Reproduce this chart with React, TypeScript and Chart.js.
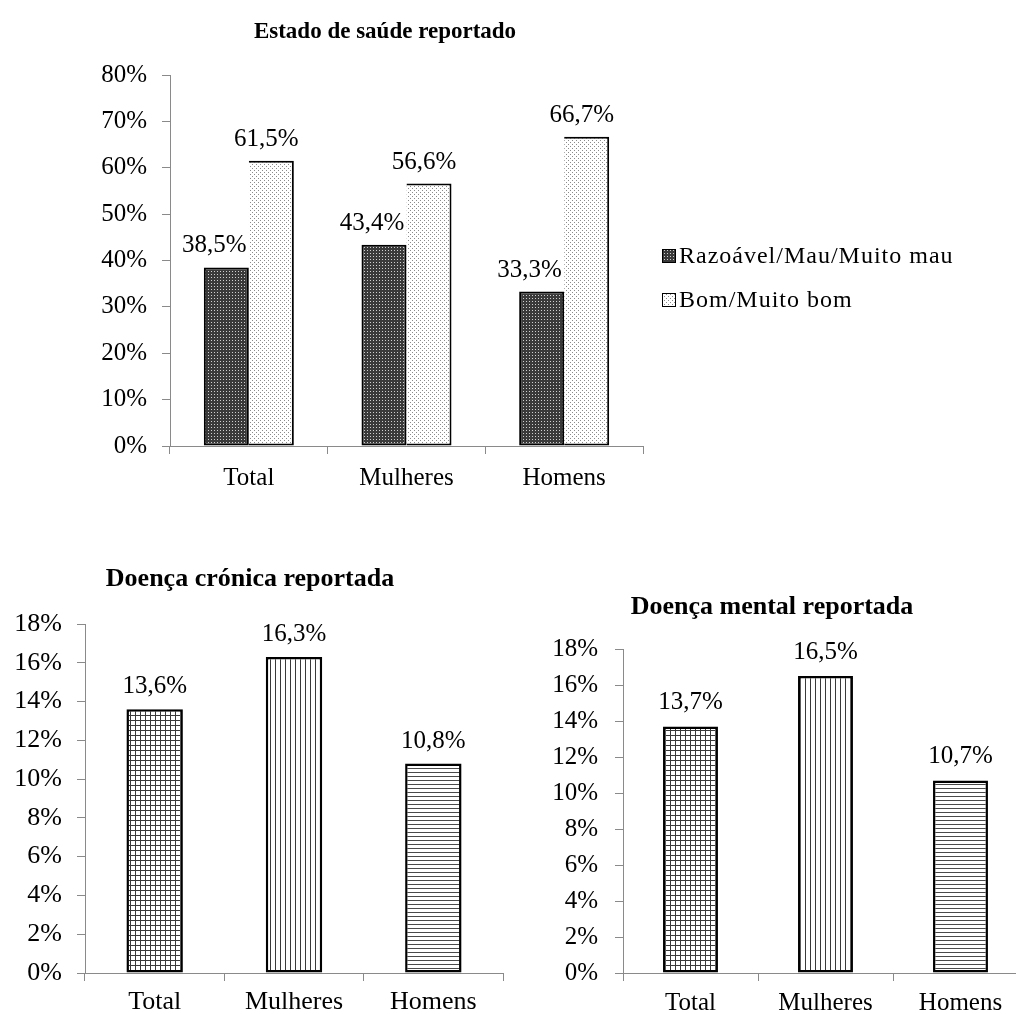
import React, { useEffect, useRef } from "react";
import { Chart, registerables } from "chart.js";

Chart.register(...registerables);

const SERIF = '"Liberation Serif", "Times New Roman", Times, serif';

// ---------- data ----------
const healthTitle = "Estado de saúde reportado";
const healthCategories = ["Total", "Mulheres", "Homens"];
const healthSeries = ["Razoável/Mau/Muito mau", "Bom/Muito bom"];
const healthFair = [38.5, 43.4, 33.3];
const healthGood = [61.5, 56.6, 66.7];
const healthMax = 80;
const healthStep = 10;

const chronicTitle = "Doença crónica reportada";
const chronicCategories = ["Total", "Mulheres", "Homens"];
const chronicValues = [13.6, 16.3, 10.8];

const mentalTitle = "Doença mental reportada";
const mentalCategories = ["Total", "Mulheres", "Homens"];
const mentalValues = [13.7, 16.5, 10.7];

const diseaseMax = 18;
const diseaseStep = 2;

// ---------- helpers ----------
const fmt = (v: number) => v.toFixed(1).replace(".", ",") + "%";

function makePattern(
  ctx: CanvasRenderingContext2D,
  w: number,
  h: number,
  draw: (c: CanvasRenderingContext2D) => void
) {
  const off = document.createElement("canvas");
  off.width = w;
  off.height = h;
  const c = off.getContext("2d")!;
  draw(c);
  return ctx.createPattern(off, "repeat")!;
}

function patterns(ctx: CanvasRenderingContext2D) {
  return {
    darkDots: makePattern(ctx, 3, 3, (c) => {
      c.fillStyle = "#3a3a3a";
      c.fillRect(0, 0, 3, 3);
      c.fillStyle = "#cfcfcf";
      c.fillRect(1, 1, 1, 1);
    }),
    lightDots: makePattern(ctx, 4, 4, (c) => {
      c.fillStyle = "#ffffff";
      c.fillRect(0, 0, 4, 4);
      c.fillStyle = "#8a8a8a";
      c.fillRect(0, 0, 1, 1);
      c.fillRect(2, 2, 1, 1);
    }),
    grid: makePattern(ctx, 5, 5, (c) => {
      c.fillStyle = "#ffffff";
      c.fillRect(0, 0, 5, 5);
      c.fillStyle = "#3a3a3a";
      c.fillRect(0, 0, 5, 1);
      c.fillRect(0, 0, 1, 5);
    }),
    vlines: makePattern(ctx, 5, 1, (c) => {
      c.fillStyle = "#ffffff";
      c.fillRect(0, 0, 5, 1);
      c.fillStyle = "#3a3a3a";
      c.fillRect(0, 0, 1, 1);
    }),
    hlines: makePattern(ctx, 1, 4, (c) => {
      c.fillStyle = "#ffffff";
      c.fillRect(0, 0, 1, 4);
      c.fillStyle = "#4a4a4a";
      c.fillRect(0, 0, 1, 1);
    }),
  };
}

type Box = { x: number; y: number; w: number; h: number };
type Area = { l: number; t: number; r: number; b: number };

type Cfg = {
  box: Box;
  area: Area;
  labels: string[];
  datasets: any[];
  max: number;
  step: number;
  tickSize: number;
  xTickPad: number;
  yTickPad: number;
  tickLen: number;
  catPct: number;
  borderWidth: number;
  title: { text: string; x: number; y: number; size: number };
  labelSize: number;
  labelGap: number;
  labelOffsets: number[];
  legend?: { x: number; y: number; dy: number; sq: number; size: number; textX: number; spacing: number };
};

const AXIS = "#8a8a8a";

function buildChart(canvas: HTMLCanvasElement, cfg: Cfg) {
  const { box, area } = cfg;
  const overlay = {
    id: "overlay",
    afterDraw(chart: any) {
      const ctx = chart.ctx as CanvasRenderingContext2D;
      ctx.save();
      ctx.fillStyle = "#000";
      ctx.font = `${cfg.labelSize}px ${SERIF}`;
      ctx.textAlign = "center";
      ctx.textBaseline = "alphabetic";
      chart.data.datasets.forEach((ds: any, di: number) => {
        chart.getDatasetMeta(di).data.forEach((el: any, i: number) => {
          const v = ds.data[i] as number;
          ctx.fillText(fmt(v), el.x + (cfg.labelOffsets[di] || 0), el.y - cfg.labelGap);
        });
      });
      // title
      ctx.font = `bold ${cfg.title.size}px ${SERIF}`;
      ctx.textBaseline = "middle";
      ctx.fillText(cfg.title.text, cfg.title.x - box.x, cfg.title.y - box.y);
      // legend
      if (cfg.legend) {
        const lg = cfg.legend;
        ctx.textAlign = "left";
        ctx.textBaseline = "middle";
        ctx.font = `${lg.size}px ${SERIF}`;
        try {
          (ctx as any).letterSpacing = `${lg.spacing}px`;
        } catch (e) {}
        chart.data.datasets.forEach((ds: any, di: number) => {
          const sx = lg.x - box.x;
          const sy = lg.y - box.y + di * lg.dy;
          ctx.fillStyle = ds.backgroundColor;
          ctx.fillRect(sx, sy, lg.sq, lg.sq);
          ctx.strokeStyle = "#000";
          ctx.lineWidth = 1;
          ctx.strokeRect(sx + 0.5, sy + 0.5, lg.sq - 1, lg.sq - 1);
          ctx.fillStyle = "#000";
          ctx.fillText(ds.label, lg.textX - box.x, sy + lg.sq / 2 + 1);
        });
      }
      ctx.restore();
    },
  };

  const yW = area.l - box.x;
  const xH = box.y + box.h - area.b;

  return new Chart(canvas, {
    type: "bar",
    data: {
      labels: cfg.labels,
      datasets: cfg.datasets.map((d) => ({
        ...d,
        borderColor: "#000",
        borderWidth: cfg.borderWidth,
        categoryPercentage: cfg.catPct,
        barPercentage: 1,
      })),
    },
    options: {
      responsive: false,
      maintainAspectRatio: false,
      animation: false,
      layout: {
        padding: {
          left: 0,
          top: area.t - box.y,
          right: box.x + box.w - area.r,
          bottom: 0,
        },
      },
      plugins: {
        legend: { display: false },
        title: { display: false },
        tooltip: { enabled: false },
      },
      scales: {
        x: {
          grid: {
            display: true,
            drawOnChartArea: false,
            drawTicks: true,
            tickLength: cfg.tickLen,
            color: AXIS,
            offset: true,
          },
          border: { display: true, color: AXIS, width: 1 },
          ticks: {
            font: { family: SERIF, size: cfg.tickSize },
            color: "#000",
            padding: cfg.xTickPad,
            maxRotation: 0,
            autoSkip: false,
          },
          afterFit: (s: any) => {
            s.height = xH;
          },
        },
        y: {
          min: 0,
          max: cfg.max,
          grid: {
            display: true,
            drawOnChartArea: false,
            drawTicks: true,
            tickLength: cfg.tickLen,
            color: AXIS,
          },
          border: { display: true, color: AXIS, width: 1 },
          ticks: {
            stepSize: cfg.step,
            font: { family: SERIF, size: cfg.tickSize },
            color: "#000",
            padding: cfg.yTickPad,
            callback: (v: any) => v + "%",
          },
          afterFit: (s: any) => {
            s.width = yW;
          },
        },
      },
    } as any,
    plugins: [overlay],
  });
}

const TOP_BOX: Box = { x: 0, y: 0, w: 1016, h: 530 };
const BL_BOX: Box = { x: 0, y: 540, w: 515, h: 474 };
const BR_BOX: Box = { x: 520, y: 560, w: 520, h: 454 };

export default function App() {
  const topRef = useRef<HTMLCanvasElement>(null);
  const blRef = useRef<HTMLCanvasElement>(null);
  const brRef = useRef<HTMLCanvasElement>(null);

  useEffect(() => {
    const charts: Chart[] = [];
    const topCtx = topRef.current!.getContext("2d")!;
    const pTop = patterns(topCtx);
    charts.push(
      buildChart(topRef.current!, {
        box: TOP_BOX,
        area: { l: 170, t: 75, r: 643, b: 446 },
        labels: healthCategories,
        datasets: [
          { label: healthSeries[0], data: healthFair, backgroundColor: pTop.darkDots, borderSkipped: false },
          { label: healthSeries[1], data: healthGood, backgroundColor: pTop.lightDots, borderSkipped: "left" },
        ],
        max: healthMax,
        step: healthStep,
        tickSize: 25,
        xTickPad: 9,
        yTickPad: 15,
        tickLen: 8,
        catPct: 0.571,
        borderWidth: 2,
        title: { text: healthTitle, x: 385, y: 32, size: 23 },
        labelSize: 25,
        labelGap: 15,
        labelOffsets: [-12, -5],
        legend: { x: 662, y: 249, dy: 44, sq: 14, size: 24, textX: 679, spacing: 1 },
      })
    );

    const blCtx = blRef.current!.getContext("2d")!;
    const pBl = patterns(blCtx);
    charts.push(
      buildChart(blRef.current!, {
        box: BL_BOX,
        area: { l: 85, t: 624, r: 503, b: 973 },
        labels: chronicCategories,
        datasets: [
          {
            label: chronicTitle,
            data: chronicValues,
            backgroundColor: [pBl.grid, pBl.vlines, pBl.hlines],
            borderSkipped: false,
          },
        ],
        max: diseaseMax,
        step: diseaseStep,
        tickSize: 26,
        xTickPad: 6,
        yTickPad: 15,
        tickLen: 8,
        catPct: 0.405,
        borderWidth: 2.5,
        title: { text: chronicTitle, x: 250, y: 579, size: 26 },
        labelSize: 25,
        labelGap: 16,
        labelOffsets: [0],
      })
    );

    const brCtx = brRef.current!.getContext("2d")!;
    const pBr = patterns(brCtx);
    charts.push(
      buildChart(brRef.current!, {
        box: BR_BOX,
        area: { l: 623, t: 649, r: 1028, b: 973 },
        labels: mentalCategories,
        datasets: [
          {
            label: mentalTitle,
            data: mentalValues,
            backgroundColor: [pBr.grid, pBr.vlines, pBr.hlines],
            borderSkipped: false,
          },
        ],
        max: diseaseMax,
        step: diseaseStep,
        tickSize: 25,
        xTickPad: 7,
        yTickPad: 17,
        tickLen: 8,
        catPct: 0.407,
        borderWidth: 2.5,
        title: { text: mentalTitle, x: 772, y: 607, size: 26 },
        labelSize: 25,
        labelGap: 17,
        labelOffsets: [0],
      })
    );

    return () => charts.forEach((c) => c.destroy());
  }, []);

  const cs = (b: Box): React.CSSProperties => ({
    position: "absolute",
    left: b.x,
    top: b.y,
    width: b.w,
    height: b.h,
  });

  return (
    <div
      style={{
        position: "absolute",
        left: 0,
        top: 0,
        width: 1016,
        height: 1014,
        overflow: "hidden",
        background: "#fff",
      }}
    >
      <canvas ref={topRef} width={TOP_BOX.w} height={TOP_BOX.h} style={cs(TOP_BOX)} />
      <canvas ref={blRef} width={BL_BOX.w} height={BL_BOX.h} style={cs(BL_BOX)} />
      <canvas ref={brRef} width={BR_BOX.w} height={BR_BOX.h} style={cs(BR_BOX)} />
    </div>
  );
}
